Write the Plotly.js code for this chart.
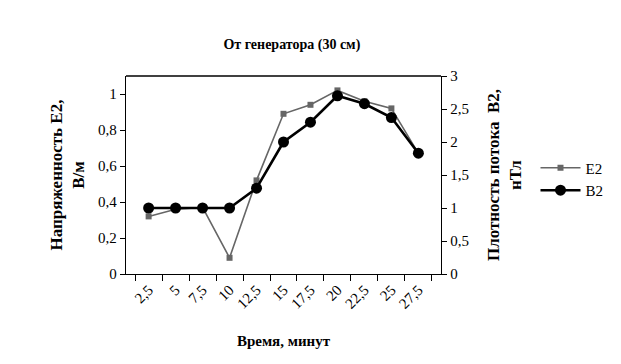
<!DOCTYPE html>
<html>
<head>
<meta charset="utf-8">
<script src="https://cdn.plot.ly/plotly-3.0.1.min.js"></script>
<style>html,body{margin:0;padding:0;background:#fff}#chart{width:621px;height:364px}</style>
</head>
<body>
<div id="chart"></div>
<script>
const categories = ["2,5","5","7,5","10","12,5","15","17,5","20","22,5","25","27,5"];
const e2Values = [0.32, 0.36, 0.37, 0.09, 0.52, 0.89, 0.94, 1.02, 0.96, 0.92, 0.67];
const b2Values = [1.0, 1.0, 1.0, 1.0, 1.3, 2.0, 2.3, 2.7, 2.58, 2.37, 1.83];
const titleText = "От генератора (30 см)";
const xTitle = "Время, минут";
const yTitle = "Напряженность E2,<br>В/м";
const y2Title = "Плотность потока\u00A0\u00A0B2,<br>нТл";

const serif = "'Liberation Serif'";

const traces = [
  {x: categories, y: e2Values, name: "E2", type: "scatter", mode: "lines+markers",
   line: {color: "#666666", width: 1.6}, marker: {symbol: "square", size: 6, color: "#666666"}, yaxis: "y"},
  {x: categories, y: b2Values, name: "B2", type: "scatter", mode: "lines+markers",
   line: {color: "#000000", width: 2.6}, marker: {symbol: "circle", size: 11, color: "#000000"}, yaxis: "y2"}
];

const layout = {
  width: 621, height: 364,
  margin: {l: 126, r: 174, t: 76, b: 90},
  paper_bgcolor: "#fff", plot_bgcolor: "#fff",
  separators: ", ",
  font: {family: serif, size: 14, color: "#000"},
  title: {text: "<b>" + titleText + "</b>", x: 0.47, xanchor: "center", y: 0.88, yanchor: "middle", font: {size: 14, family: serif}},
  showlegend: true,
  legend: {x: 1.3, xanchor: "left", y: 0.48, yanchor: "middle", bgcolor: "rgba(0,0,0,0)", font: {size: 15, family: serif}, itemwidth: 40, tracegroupgap: 4},
  xaxis: {
    type: "category", tickson: "boundaries", ticks: "outside", ticklen: 6, tickcolor: "#000",
    showline: true, linecolor: "#000", linewidth: 1.3, showgrid: false, zeroline: false,
    tickangle: -45, tickfont: {size: 15, family: serif},
    title: {text: "<b>" + xTitle + "</b>", font: {size: 15, family: serif}, standoff: 24}
  },
  yaxis: {
    range: [0, 1.1], dtick: 0.2, tick0: 0, ticks: "outside", ticklen: 5, tickcolor: "#000",
    showline: true, linecolor: "#000", linewidth: 1.3, showgrid: false, zeroline: false,
    tickfont: {size: 15, family: serif},
    title: {text: "<b>" + yTitle + "</b>", font: {size: 17, family: serif}, standoff: 9}
  },
  yaxis2: {
    range: [0, 3], dtick: 0.5, tick0: 0, overlaying: "y", side: "right", ticks: "outside", ticklen: 5, tickcolor: "#000",
    showline: true, linecolor: "#000", linewidth: 1.3, showgrid: false, zeroline: false,
    tickfont: {size: 15, family: serif},
    title: {text: "<b>" + y2Title + "</b>", font: {size: 17, family: serif}, standoff: 19}
  },
  shapes: [{type: "line", xref: "paper", yref: "paper", x0: 0, x1: 1, y0: 1, y1: 1, line: {color: "#000", width: 1.3}}]
};

Plotly.newPlot("chart", traces, layout, {staticPlot: true, displayModeBar: false});
</script>
</body>
</html>
